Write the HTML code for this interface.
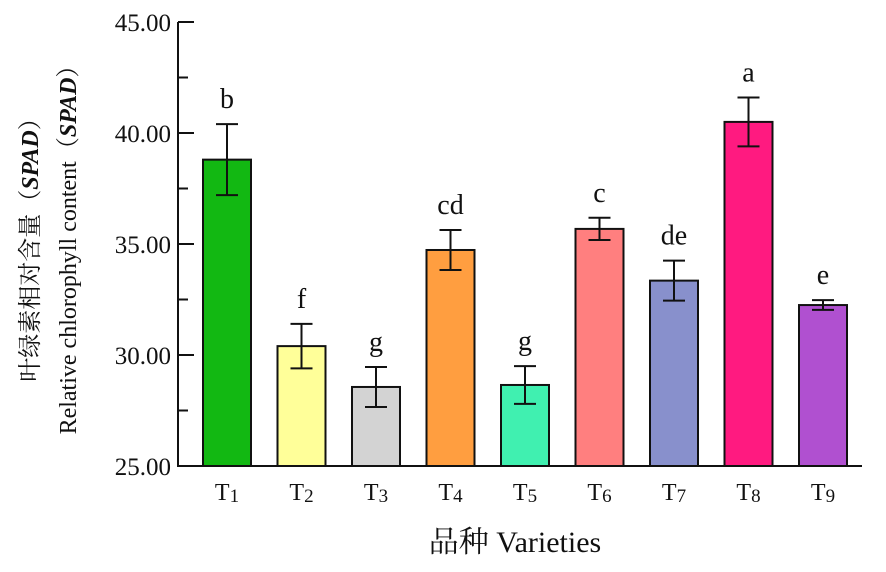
<!DOCTYPE html>
<html><head><meta charset="utf-8"><style>
body{margin:0;background:#fff}
svg text{font-family:"Liberation Serif","Noto Serif CJK SC",serif;fill:#111}
</style></head><body>
<svg width="886" height="567" viewBox="0 0 886 567">
<g id="plot"></g>
</svg>
<script>
const categories=["1","2","3","4","5","6","7","8","9"];
const values=[38.8,30.4,28.56,34.73,28.65,35.68,33.35,40.5,32.25];
const errors=[1.6,1.0,0.9,0.9,0.85,0.5,0.9,1.1,0.22];
const letters=["b","f","g","cd","g","c","de","a","e"];
const colors=["#12b812","#ffff99","#d3d3d3","#ff9e40","#40f0b0","#ff7f7f","#8890cc","#ff1a80","#b050d0"];
const yTicks=[25,30,35,40,45];
const yTickLabels=["25.00","30.00","35.00","40.00","45.00"];
const NS="http://www.w3.org/2000/svg";
const g=document.getElementById('plot');
const x0=178,y0=466,yTop=22,vmin=25,vmax=45;
const y=v=>y0-(v-vmin)/(vmax-vmin)*(y0-yTop);
const xc=i=>227+i*74.5;
function el(t,a,p){const e=document.createElementNS(NS,t);for(const k in a)e.setAttribute(k,a[k]);(p||g).appendChild(e);return e;}
values.forEach((v,i)=>{
 const b=el('rect',{x:xc(i)-24,y:y(v),width:48,height:y0-y(v),fill:colors[i],stroke:'#111','stroke-width':2});
 
 
 const e=el('path',{d:`M${xc(i)},${y(v-errors[i])}V${y(v+errors[i])}M${xc(i)-11},${y(v+errors[i])}h22M${xc(i)-11},${y(v-errors[i])}h22`,stroke:'#111','stroke-width':2,fill:'none'});
 
 
 const l=el('text',{x:xc(i),y:y(v+errors[i])-16,'text-anchor':'middle','font-size':28});
 l.textContent=letters[i];
 
 
 const t=el('text',{x:xc(i),y:500,'text-anchor':'middle','font-size':24});
 t.innerHTML='T<tspan font-size="19" dy="2">'+categories[i]+'</tspan>';
 
 
});
const ax=el('path',{d:`M${x0},${yTop}V${y0}H862`,stroke:'#111','stroke-width':2,fill:'none'});


yTicks.forEach((v,i)=>{
 el('path',{d:`M${x0},${y(v)}h16`,stroke:'#111','stroke-width':2});
 if(i<yTicks.length-1) el('path',{d:`M${x0},${y(v+2.5)}h10`,stroke:'#111','stroke-width':2});
 const t=el('text',{x:171,y:y(v)+9,'text-anchor':'end','font-size':25});
 t.textContent=yTickLabels[i];
 
 
});
const yt=el('text',{transform:'translate(38,244) rotate(-90)','text-anchor':'middle','font-size':24});
yt.innerHTML='叶绿素相对含量（<tspan font-style="italic" font-weight="bold">SPAD</tspan>）';


const yt2=el('text',{transform:'translate(76,244) rotate(-90)','text-anchor':'middle','font-size':24});
yt2.innerHTML='Relative chlorophyll content（<tspan font-style="italic" font-weight="bold">SPAD</tspan>）';


const xt=el('text',{x:515,y:552,'text-anchor':'middle','font-size':30});
xt.textContent='品种 Varieties';


</script>
</body></html>
